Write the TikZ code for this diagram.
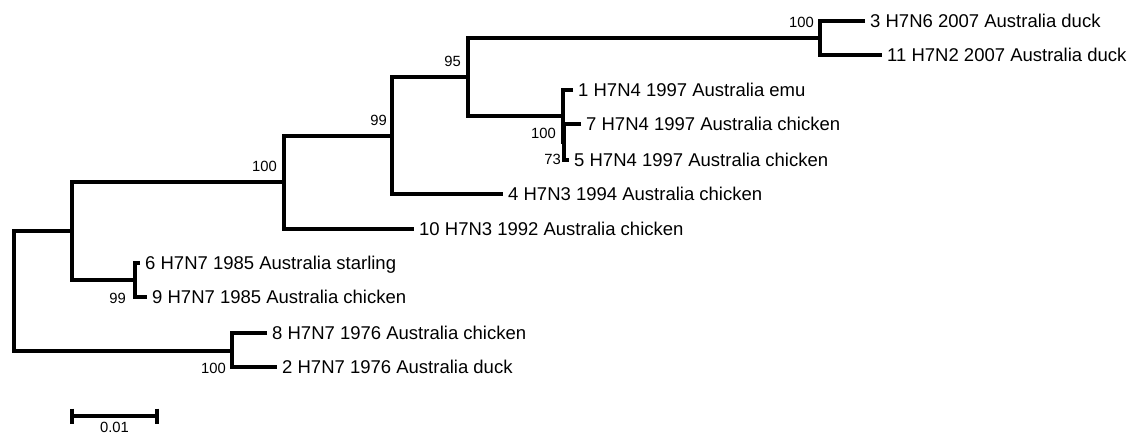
\documentclass[tikz,border=0pt]{standalone}
\usepackage{fontspec}
\setmainfont{Liberation Sans}
\begin{document}
\begin{tikzpicture}[x=1pt,y=-1pt,
  branch/.style={line width=3.3pt, line join=miter},
  leaf/.style={anchor=base west, inner sep=0pt, font=\fontsize{18.5}{20}\selectfont},
  boot/.style={anchor=base east, inner sep=0pt, font=\fontsize{14.8}{16}\selectfont}]
\useasboundingbox (0,0) rectangle (1136,433);
% internal nodes
\coordinate (R) at (14,291);
\coordinate (A) at (72,231);
\coordinate (H) at (232,351);
\coordinate (B) at (284,182);
\coordinate (N69) at (135,280);
\coordinate (C) at (392,136);
\coordinate (D) at (468,77);
\coordinate (G) at (820,38);
\coordinate (E) at (563,116);
\coordinate (F) at (564,142);
% leaf tips
\coordinate (l3) at (865,21);
\coordinate (l11) at (882,55);
\coordinate (l1) at (573,90);
\coordinate (l7) at (581,124);
\coordinate (l5) at (569,160);
\coordinate (l4) at (503,194);
\coordinate (l10) at (414,229);
\coordinate (l6) at (140,263);
\coordinate (l9) at (147,297);
\coordinate (l8) at (267,333);
\coordinate (l2) at (277,367);
% branches
\draw[branch] (A) -| (R) |- (H);
\draw[branch] (B) -| (A) |- (N69);
\draw[branch] (C) -| (B) |- (l10);
\draw[branch] (D) -| (C) |- (l4);
\draw[branch] (G) -| (D) |- (E);
\draw[branch] (l3) -| (G) |- (l11);
\draw[branch] (l1) -| (E) |- (F);
\draw[branch] (l7) -| (F) |- (l5);
\draw[branch] (l6) -| (N69) |- (l9);
\draw[branch] (l8) -| (H) |- (l2);
% leaf labels
\node[leaf] (t3) at (870,27.6) {3 H7N6 2007 Australia duck};
\node[leaf] (t11) at (887,61.6) {11 H7N2 2007 Australia duck};
\node[leaf] (t1) at (578,96.6) {1 H7N4 1997 Australia emu};
\node[leaf] (t7) at (586,130.6) {7 H7N4 1997 Australia chicken};
\node[leaf] (t5) at (574,166.6) {5 H7N4 1997 Australia chicken};
\node[leaf] (t4) at (508,200.6) {4 H7N3 1994 Australia chicken};
\node[leaf] (t10) at (419,235.6) {10 H7N3 1992 Australia chicken};
\node[leaf] (t6) at (145,269.6) {6 H7N7 1985 Australia starling};
\node[leaf] (t9) at (152,303.6) {9 H7N7 1985 Australia chicken};
\node[leaf] (t8) at (272,339.6) {8 H7N7 1976 Australia chicken};
\node[leaf] (t2) at (282,373.6) {2 H7N7 1976 Australia duck};
% bootstrap values
\node[boot] (bB) at (277,172) {100};
\node[boot] (bC) at (387,126) {99};
\node[boot] (bD) at (461,67) {95};
\node[boot] (bG) at (814,28) {100};
\node[boot] (bE) at (556,139) {100};
\node[boot] (bF) at (561,165) {73};
\node[boot] (bN) at (126,303) {99};
\node[boot] (bH) at (226,373) {100};
% scale bar
\coordinate (s1) at (72,416);
\coordinate (s2) at (157,416);
\draw[branch] (s1) -- (s2);
\draw[branch] ([yshift=7.5pt]s1) -- ([yshift=-7.5pt]s1);
\draw[branch] ([yshift=7.5pt]s2) -- ([yshift=-7.5pt]s2);
\node[anchor=base, inner sep=0pt, font=\fontsize{14.8}{16}\selectfont] (sl) at (114.5,432) {0.01};
\end{tikzpicture}
\end{document}
